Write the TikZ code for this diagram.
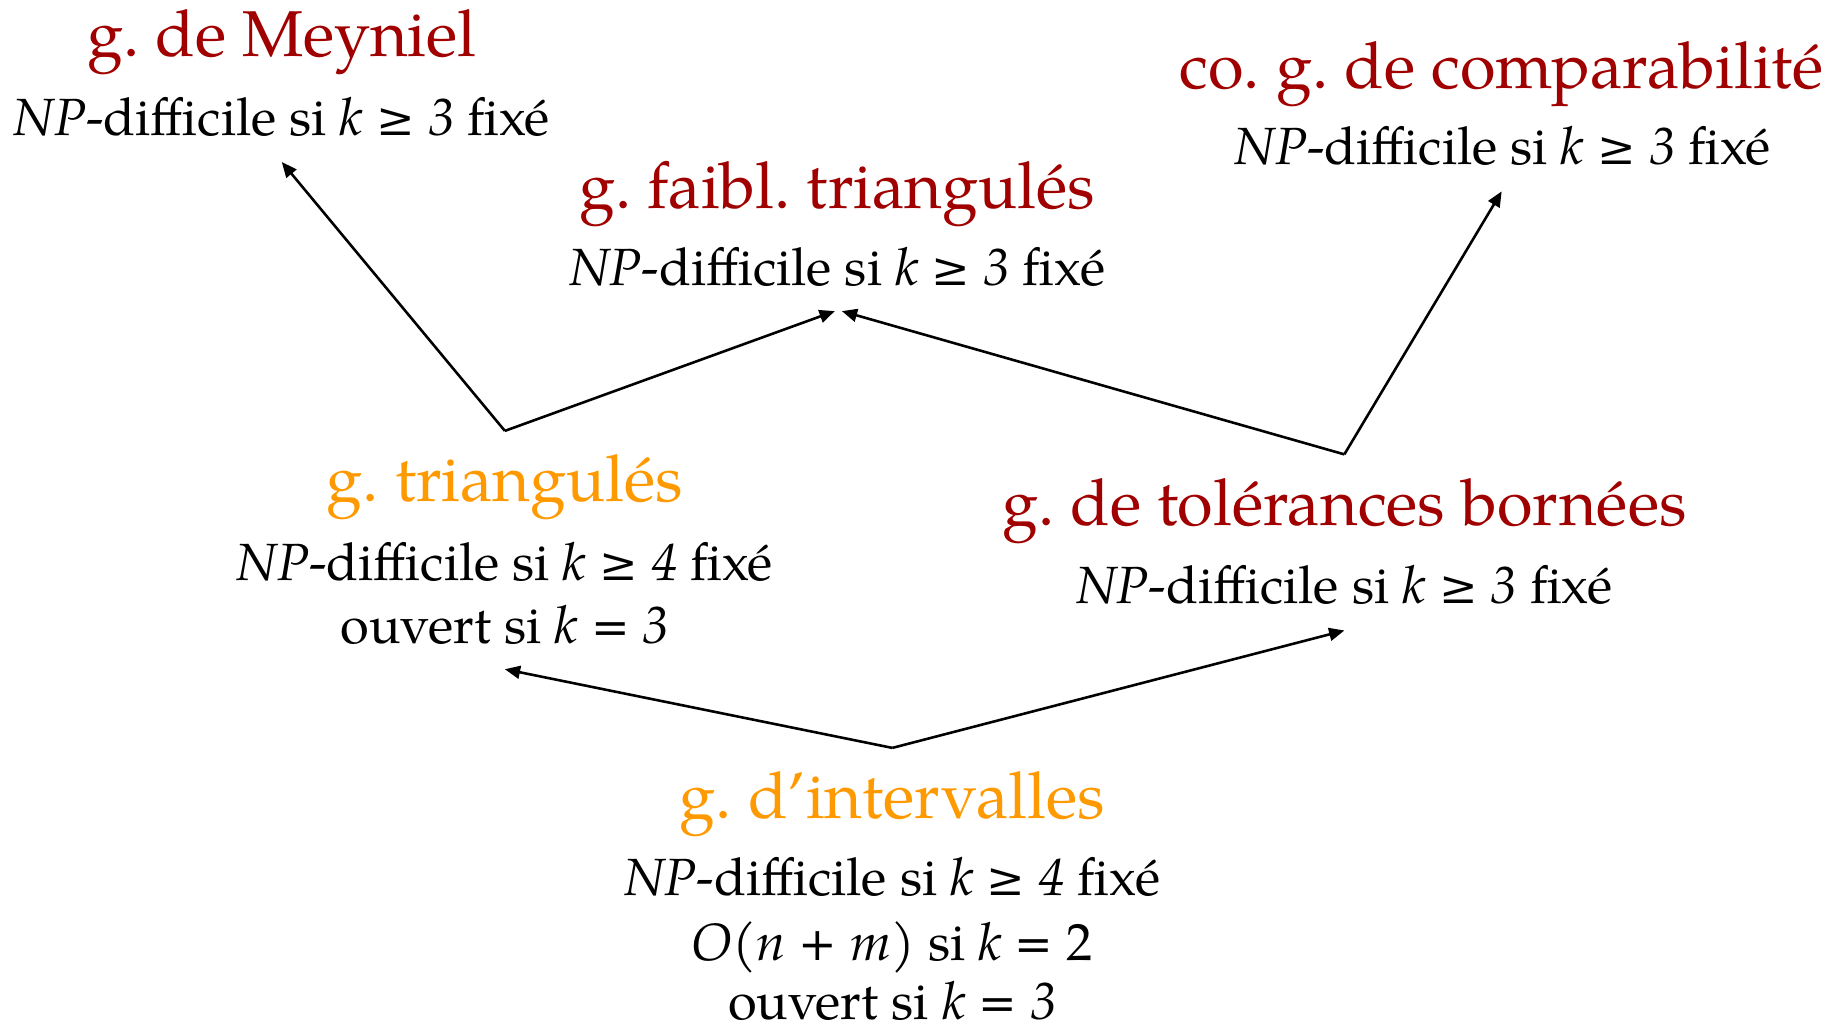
\documentclass[tikz,border=0pt]{standalone}
\usepackage{fontspec}
\setmainfont{TeX Gyre Pagella}
\newfontfamily\symfont[Scale=0.88]{DejaVu Serif}
\usetikzlibrary{arrows.meta}
\definecolor{titred}{RGB}{160,0,0}
\definecolor{titorange}{RGB}{255,153,0}
\begin{document}
\frenchspacing
\begin{tikzpicture}[x=0.5pt,y=-0.5pt,
  ttl/.style={anchor=base,inner sep=0pt,font=\fontsize{27.6}{32}\selectfont},
  red/.style={ttl,text=titred},
  org/.style={ttl,text=titorange},
  sub/.style={anchor=base,inner sep=0pt,font=\fontsize{22.3}{27}\selectfont},
  arr/.style={line width=1.1pt,-{Triangle[length=6.5pt,width=5.5pt]}}]
\useasboundingbox (0,0) rectangle (1568,876);
\newcommand{\npk}[1]{\textit{NP}-difficile si \textit{k} {\symfont ≥} \textit{#1} fixé}
% nodes
\node[red] (meyT) at (240,48) {g. de Meyniel};
\node[sub] (meyS) at (240,115) {\npk{3}};
\node[red] (cogT) at (1279,75) {co. g. de comparabilité};
\node[sub] (cogS) at (1280,140) {\npk{3}};
\node[red] (faiT) at (713,178) {g. faibl. triangulés};
\node[sub] (faiS) at (713,243) {\npk{3}};
\node[org] (triT) at (430,427) {g. triangulés};
\node[sub] (triS1) at (430,494) {\npk{4}};
\node[sub] (triS2) at (430,548) {ouvert si \textit{k} {\symfont =} \textit{3}};
\node[red] (tolT) at (1145,448) {g. de tolérances bornées};
\node[sub] (tolS) at (1145,514) {\npk{3}};
\node[org] (intT) at (760,697) {g. d’intervalles};
\node[sub] (intS1) at (760,763) {\npk{4}};
\node[sub] (intS2) at (760,818) {\textit{O(n} {\symfont +} \textit{m)} si \textit{k} {\symfont =} 2};
\node[sub] (intS3) at (760,868) {ouvert si \textit{k} {\symfont =} \textit{3}};
% connector ends
\coordinate (triUp) at (430,367);
\coordinate (meyIn) at (240,138);
\coordinate (faiInL) at (711,265);
\coordinate (faiInR) at (717,265);
\coordinate (tolUp) at (1145,387);
\coordinate (cogIn) at (1279,163);
\coordinate (intUp) at (760,637);
\coordinate (triIn) at (430,570);
\coordinate (tolIn) at (1145,537);
% connectors
\draw[arr] (triUp) -- (meyIn);
\draw[arr] (triUp) -- (faiInL);
\draw[arr] (tolUp) -- (faiInR);
\draw[arr] (tolUp) -- (cogIn);
\draw[arr] (intUp) -- (triIn);
\draw[arr] (intUp) -- (tolIn);
\end{tikzpicture}
\end{document}
